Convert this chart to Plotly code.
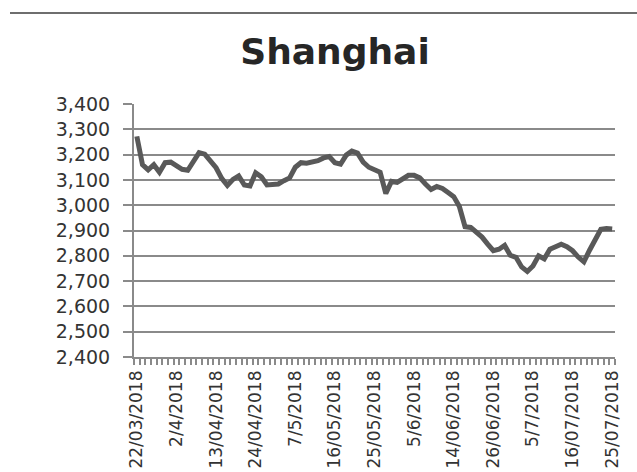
import plotly.graph_objects as go

dates = [
    "22/03/2018", "23/03/2018", "26/03/2018", "27/03/2018", "28/03/2018", "29/03/2018", "30/03/2018",
    "2/4/2018", "3/4/2018", "4/4/2018", "9/4/2018", "10/4/2018", "11/4/2018", "12/4/2018",
    "13/04/2018", "16/04/2018", "17/04/2018", "18/04/2018", "19/04/2018", "20/04/2018", "23/04/2018",
    "24/04/2018", "25/04/2018", "26/04/2018", "27/04/2018", "2/5/2018", "3/5/2018", "4/5/2018",
    "7/5/2018", "8/5/2018", "9/5/2018", "10/5/2018", "11/5/2018", "14/05/2018", "15/05/2018",
    "16/05/2018", "17/05/2018", "18/05/2018", "21/05/2018", "22/05/2018", "23/05/2018", "24/05/2018",
    "25/05/2018", "28/05/2018", "29/05/2018", "30/05/2018", "31/05/2018", "1/6/2018", "4/6/2018",
    "5/6/2018", "6/6/2018", "7/6/2018", "8/6/2018", "11/6/2018", "12/6/2018", "13/06/2018",
    "14/06/2018", "15/06/2018", "19/06/2018", "20/06/2018", "21/06/2018", "22/06/2018", "25/06/2018",
    "26/06/2018", "27/06/2018", "28/06/2018", "29/06/2018", "2/7/2018", "3/7/2018", "4/7/2018",
    "5/7/2018", "6/7/2018", "9/7/2018", "10/7/2018", "11/7/2018", "12/7/2018", "13/07/2018",
    "16/07/2018", "17/07/2018", "18/07/2018", "19/07/2018", "20/07/2018", "23/07/2018", "24/07/2018",
    "25/07/2018",
]

values = [
    3272, 3160, 3140, 3160, 3130, 3168, 3170,
    3155, 3142, 3138, 3170, 3208, 3202, 3176,
    3148, 3106, 3078, 3102, 3116, 3080, 3076,
    3128, 3112, 3080, 3082, 3084, 3097, 3108,
    3150, 3168, 3166, 3170, 3176, 3187, 3192,
    3168, 3162, 3198, 3214, 3206, 3170, 3150,
    3140, 3130, 3046, 3094, 3090, 3104, 3118,
    3118, 3108, 3084, 3062, 3074, 3066, 3050,
    3034, 2995, 2915, 2912, 2896, 2874, 2846,
    2820, 2826, 2841, 2802, 2794, 2756, 2738,
    2760, 2800, 2788, 2826, 2836, 2846, 2836,
    2820, 2795, 2776, 2822, 2860, 2905, 2908,
    2906,
]

y_ticks = [2400, 2500, 2600, 2700, 2800, 2900, 3000, 3100, 3200, 3300, 3400]
label_step = 7

idx = list(range(len(dates)))
tick_idx = idx[::label_step]
tick_text = [dates[i] for i in tick_idx]

W, H = 637, 472
ML, MR, MT, MB = 134, 22, 104, 115

fig = go.Figure()
fig.add_trace(go.Scatter(
    x=idx, y=values, mode="lines",
    line=dict(color="#595959", width=5),
    hoverinfo="skip", showlegend=False,
))

grid_col = "#8a8a8a"
fig.update_layout(
    width=W, height=H,
    margin=dict(l=ML, r=MR, t=MT, b=MB, autoexpand=False),
    paper_bgcolor="#ffffff", plot_bgcolor="#ffffff",
    title=dict(
        text="<b>Shanghai</b>",
        font=dict(family="DejaVu Sans", size=36, color="#262626"),
        x=335 / W, xanchor="center", xref="container",
        y=1 - 51 / H, yanchor="middle", yref="container",
    ),
    xaxis=dict(
        range=[-0.5, len(dates) - 0.5],
        tickmode="array", tickvals=tick_idx, ticktext=tick_text,
        tickangle=-90, ticks="", showgrid=False, zeroline=False,
        showline=True, linecolor=grid_col, linewidth=1.5,
        tickfont=dict(family="DejaVu Sans", size=17, color="#333333"),
        ticklabelstandoff=5,
        minor=dict(ticks="outside", tickmode="linear", tick0=-0.5, dtick=1,
                   ticklen=6, tickcolor=grid_col, tickwidth=1.5, showgrid=False),
        automargin=False, fixedrange=True,
    ),
    yaxis=dict(
        range=[2400, 3400], tickmode="array", tickvals=y_ticks,
        ticktext=[f"{v:,}" for v in y_ticks],
        ticks="outside", ticklen=9, tickcolor=grid_col, tickwidth=1.5,
        showgrid=True, gridcolor=grid_col, gridwidth=1.5,
        zeroline=False, showline=True, linecolor=grid_col, linewidth=2,
        tickfont=dict(family="DejaVu Sans", size=19, color="#333333"),
        ticklabelstandoff=9,
        automargin=False, fixedrange=True,
    ),
)

fig.add_shape(type="line", xref="paper", yref="paper",
              x0=(10 - ML) / (W - ML - MR), x1=(W - ML) / (W - ML - MR),
              y0=(H - MB - 13) / (H - MT - MB), y1=(H - MB - 13) / (H - MT - MB),
              line=dict(color="#6e6e6e", width=2))

fig.write_html("out.html")
